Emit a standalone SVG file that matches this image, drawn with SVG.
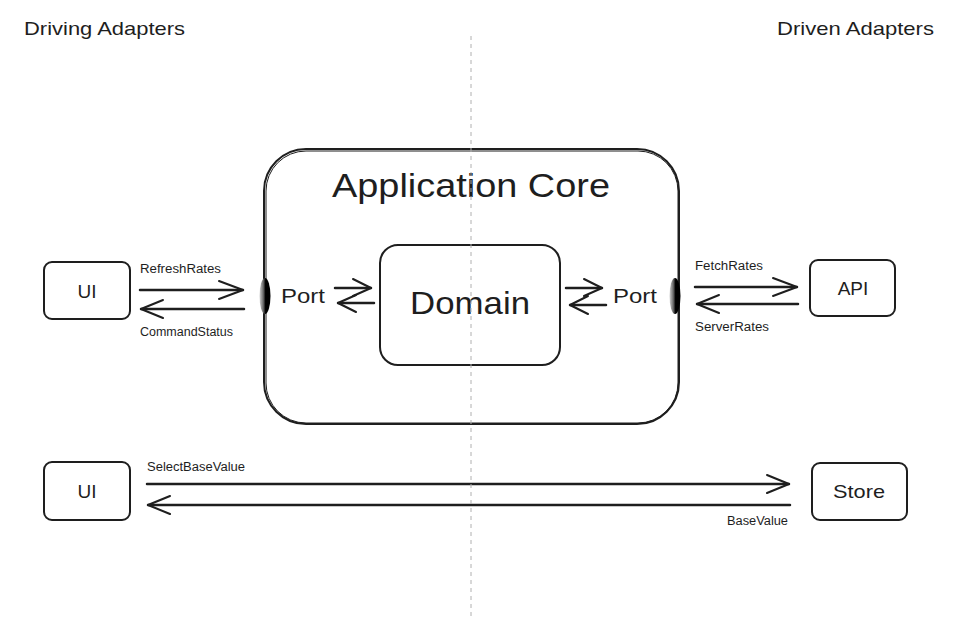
<svg xmlns="http://www.w3.org/2000/svg" width="959" height="633" viewBox="0 0 959 633">
<defs>
<style>
.t{font-family:"Liberation Sans","Noto Sans",sans-serif;fill:#1e1e1e}
.s{font-size:12px}
.box{fill:#fff;stroke:#1e1e1e;stroke-width:2}
.ln{fill:none;stroke:#1e1e1e;stroke-width:2.5;stroke-linecap:round}
.hd{fill:none;stroke:#1e1e1e;stroke-width:2;stroke-linecap:round;stroke-linejoin:round}
</style>
<linearGradient id="pg" x1="0" y1="0" x2="1" y2="0">
<stop offset="0" stop-color="#d0d0d0"/>
<stop offset="0.35" stop-color="#666"/>
<stop offset="0.55" stop-color="#000"/>
</linearGradient>
</defs>
<rect width="959" height="633" fill="#fff"/>

<text class="t" x="24" y="35" font-size="19" textLength="161" lengthAdjust="spacingAndGlyphs">Driving Adapters</text>
<text class="t" x="777" y="35" font-size="19" textLength="157" lengthAdjust="spacingAndGlyphs">Driven Adapters</text>

<g id="app-core">
<rect class="box" x="264" y="149" width="415" height="275" rx="42"/>
<rect x="266" y="151" width="412" height="272" rx="40" fill="none" stroke="#1e1e1e" stroke-width="1"/>
<text class="t" x="332" y="197" font-size="33" textLength="278" lengthAdjust="spacingAndGlyphs">Application Core</text>
</g>

<g id="domain">
<rect class="box" x="380" y="245" width="180" height="120" rx="18"/>
<text class="t" x="410" y="314" font-size="32" textLength="120" lengthAdjust="spacingAndGlyphs">Domain</text>
</g>

<g id="port-left">
<ellipse cx="265" cy="296" rx="5.5" ry="18" fill="url(#pg)"/>
<text class="t" x="281" y="303" font-size="20" textLength="44" lengthAdjust="spacingAndGlyphs">Port</text>
</g>
<g id="port-right">
<ellipse cx="675" cy="296" rx="5.5" ry="18" fill="url(#pg)"/>
<text class="t" x="613" y="303" font-size="20" textLength="44" lengthAdjust="spacingAndGlyphs">Port</text>
</g>

<g id="ui-top">
<rect class="box" x="44" y="262" width="86" height="57" rx="8"/>
<text class="t" x="87" y="298" font-size="19" text-anchor="middle">UI</text>
</g>
<g id="api">
<rect class="box" x="810" y="260" width="85" height="56" rx="8"/>
<text class="t" x="853" y="295" font-size="19" text-anchor="middle">API</text>
</g>
<g id="ui-bottom">
<rect class="box" x="44" y="462" width="86" height="58" rx="8"/>
<text class="t" x="87" y="498" font-size="19" text-anchor="middle">UI</text>
</g>
<g id="store">
<rect class="box" x="812" y="463" width="95" height="57" rx="8"/>
<text class="t" x="833" y="498" font-size="19" textLength="52" lengthAdjust="spacingAndGlyphs">Store</text>
</g>

<g id="connectors">
<line class="ln" x1="140" y1="290" x2="243" y2="290"/>
<path class="hd" d="M219 281 L243 290 L219 299"/>
<line class="ln" x1="141" y1="309" x2="244" y2="309"/>
<path class="hd" d="M163 300 L141 309 L163 318"/>
<text class="t s" x="140" y="273" textLength="81" lengthAdjust="spacingAndGlyphs">RefreshRates</text>
<text class="t s" x="140" y="336" textLength="93" lengthAdjust="spacingAndGlyphs">CommandStatus</text>

<line class="ln" x1="335" y1="288" x2="371" y2="288"/>
<path class="hd" d="M353 279 L371 288 L353 296"/>
<line class="ln" x1="338" y1="303" x2="374" y2="303"/>
<path class="hd" d="M356 295 L338 303 L356 312"/>

<line class="ln" x1="566" y1="288" x2="602" y2="288"/>
<path class="hd" d="M584 279 L602 288 L584 296"/>
<line class="ln" x1="570" y1="305" x2="606" y2="305"/>
<path class="hd" d="M588 296 L570 305 L588 314"/>

<line class="ln" x1="695" y1="287" x2="797" y2="287"/>
<path class="hd" d="M773 278 L797 287 L773 296"/>
<line class="ln" x1="697" y1="304" x2="798" y2="304"/>
<path class="hd" d="M719 295 L697 304 L719 313"/>
<text class="t s" x="695" y="270" textLength="68" lengthAdjust="spacingAndGlyphs">FetchRates</text>
<text class="t s" x="695" y="331" textLength="74" lengthAdjust="spacingAndGlyphs">ServerRates</text>

<line class="ln" x1="147" y1="484" x2="789" y2="484"/>
<path class="hd" d="M767 475 L789 484 L767 493"/>
<line class="ln" x1="148" y1="505" x2="790" y2="505"/>
<path class="hd" d="M170 496 L148 505 L170 514"/>
<text class="t s" x="147" y="471" textLength="98" lengthAdjust="spacingAndGlyphs">SelectBaseValue</text>
<text class="t s" x="727" y="525" textLength="61" lengthAdjust="spacingAndGlyphs">BaseValue</text>
</g>

<line id="divider" x1="471" y1="36" x2="471" y2="617" stroke="#b0b0b0" stroke-width="1" stroke-dasharray="4 4"/>
</svg>
